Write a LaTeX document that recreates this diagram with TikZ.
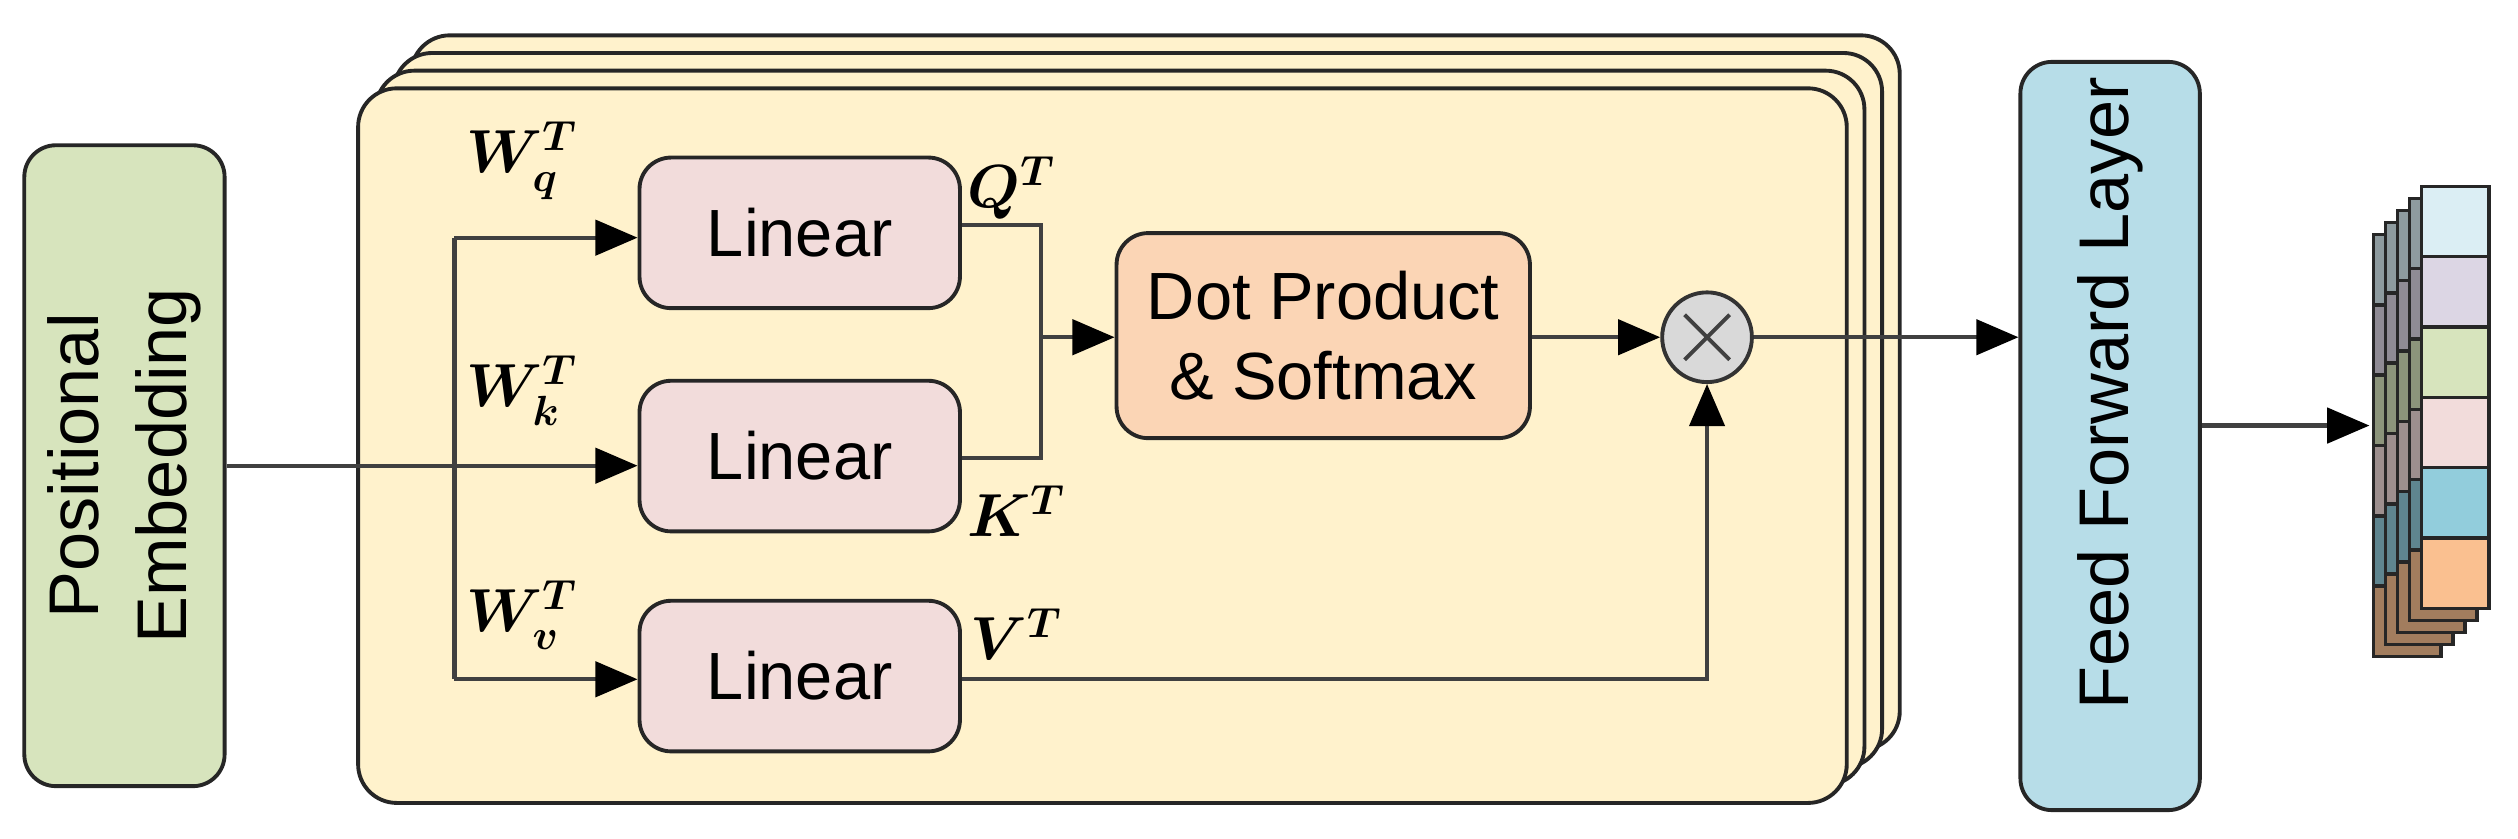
\documentclass[tikz,border=0pt]{standalone}
\usepackage{fontspec}
\setmainfont{Liberation Sans}
\usetikzlibrary{arrows.meta,calc}
\definecolor{pan}{HTML}{FFF2CC}
\definecolor{lin}{HTML}{F2DCDB}
\definecolor{dot}{HTML}{FBD5B5}
\definecolor{pos}{HTML}{D7E4BD}
\definecolor{ffl}{HTML}{B7DDE8}
\definecolor{c1}{HTML}{DBEEF4}
\definecolor{c2}{HTML}{DCD6E4}
\definecolor{c3}{HTML}{D7E4BD}
\definecolor{c4}{HTML}{F2DCDB}
\definecolor{c5}{HTML}{92CDDC}
\definecolor{c6}{HTML}{FAC090}
\begin{document}
\begin{tikzpicture}[x=0.016058cm,y=-0.016058cm,
  box/.style={draw=black!85,line width=1.1pt,rounded corners=9pt,inner sep=0pt},
  con/.style={draw=black!75,line width=1.2pt},
  arr/.style={con,-{Triangle[length=12pt,width=10pt,color=black]}},
  lab/.style={font=\fontsize{18}{20}\selectfont\boldmath,inner sep=0pt},
  txt/.style={font=\fontsize{19}{23}\selectfont}]
\useasboundingbox (0,0) rectangle (1568,522);
% stacked panels
\foreach \k in {3,2,1,0}{
  \draw[fill=pan,draw=black!85,line width=1.1pt,rounded corners=11pt]
    (223+11*\k,55-11*\k) rectangle (1150+11*\k,500-11*\k);
}
% positional embedding
\node[box,fill=pos,minimum width=125*0.4557pt,minimum height=400*0.4557pt] (pe) at (77.5,290) {};
\node[font=\fontsize{20}{25}\selectfont,rotate=90,align=center] at (pe.center) {Positional\\Embedding};
% linear boxes
\foreach \n/\y in {lq/145,lk/284,lv/421}{
  \node[box,fill=lin,minimum width=200*0.4557pt,minimum height=94*0.4557pt,txt] (\n) at (498,\y) {Linear};
}
\node[box,fill=dot,minimum width=258*0.4557pt,minimum height=128*0.4557pt,txt,align=center] (dp) at (824,209) {Dot Product\\\& Softmax};
\node[draw=black!80,fill=black!15,line width=1.1pt,circle,minimum size=56*0.4557pt,inner sep=0pt] (mul) at (1063,210) {};
\draw[black!75,line width=1.1pt] ($(mul.center)+(-14,-14)$) -- ($(mul.center)+(14,14)$) ($(mul.center)+(14,-14)$) -- ($(mul.center)+(-14,14)$);
\node[box,fill=ffl,minimum width=112*0.4557pt,minimum height=467*0.4557pt] (ff) at (1314,271.5) {};
\node[font=\fontsize{20}{25}\selectfont,rotate=90,anchor=east] at (1314,40) {Feed Forward Layer};
% connectors
\coordinate (br) at (283,290);
\draw[arr] (pe.east |- br) -- (lk.west |- br);
\draw[con] (283,148) -- (283,423);
\draw[arr] (283,148) -- (lq.west |- 0,148);
\draw[arr] (283,423) -- (lv.west |- 0,423);
\coordinate (j) at (648,210);
\draw[con] (lq.east |- 0,140) -| (j);
\draw[con] (lk.east |- 0,285) -| (j);
\draw[arr] (j) -- (dp.west |- j);
\draw[arr] (dp.east |- mul) -- (mul.west);
\draw[arr] (lv.east |- 0,423) -| (mul.south);
\draw[arr] (mul.east) -- (ff.west |- mul);
% labels
\node[lab] at (325,100) {$W_q^T$};
\node[lab] at (325,243) {$W_k^T$};
\node[lab] at (325,383) {$W_v^T$};
\node[lab] at (630,117) {$Q^T$};
\node[lab] at (633,318) {$K^T$};
\node[lab] at (633,395) {$V^T$};
% output stack
\foreach \k/\p in {4/65,3/65,2/65,1/65,0/100}{
  \foreach \c [count=\i from 0] in {c1,c2,c3,c4,c5,c6}{
    \fill[\c!\p!black] (1508-7.5*\k,116+7.5*\k+43.8*\i) rectangle ++(42,43.8);
    \draw[black!85,line width=1pt] (1508-7.5*\k,116+7.5*\k+43.8*\i) rectangle ++(42,43.8);
  }
}
\node[inner sep=0pt] (st) at (1477,265) {};
\draw[arr] (ff.east |- st) -- (st);
\end{tikzpicture}
\end{document}
